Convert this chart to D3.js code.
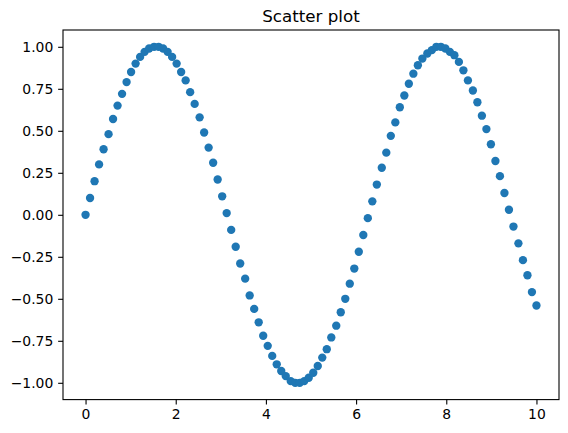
<!DOCTYPE html>
<html>
<head>
<meta charset="utf-8">
<script src="https://cdn.jsdelivr.net/npm/d3@7"></script>
<style>
  body { margin: 0; background: #fff; }
  text { font-family: "DejaVu Sans", sans-serif; }
</style>
</head>
<body>
<script>
// values (100 points, 0..10)
const xs = [0.00,0.10,0.20,0.30,0.40,0.51,0.61,0.71,0.81,0.91,
  1.01,1.11,1.21,1.31,1.41,1.52,1.62,1.72,1.82,1.92,
  2.02,2.12,2.22,2.32,2.42,2.53,2.63,2.73,2.83,2.93,
  3.03,3.13,3.23,3.33,3.43,3.54,3.64,3.74,3.84,3.94,
  4.04,4.14,4.24,4.34,4.44,4.55,4.65,4.75,4.85,4.95,
  5.05,5.15,5.25,5.35,5.45,5.56,5.66,5.76,5.86,5.96,
  6.06,6.16,6.26,6.36,6.46,6.57,6.67,6.77,6.87,6.97,
  7.07,7.17,7.27,7.37,7.47,7.58,7.68,7.78,7.88,7.98,
  8.08,8.18,8.28,8.38,8.48,8.59,8.69,8.79,8.89,8.99,
  9.09,9.19,9.29,9.39,9.49,9.60,9.70,9.80,9.90,10.00]
const ys = [0.00,0.10,0.20,0.30,0.39,0.48,0.57,0.65,0.72,0.79,
  0.85,0.90,0.94,0.97,0.99,1.00,1.00,0.99,0.97,0.94,
  0.90,0.85,0.80,0.73,0.66,0.58,0.49,0.40,0.31,0.21,
  0.11,0.01,-0.09,-0.19,-0.29,-0.38,-0.48,-0.56,-0.64,-0.72,
  -0.78,-0.84,-0.89,-0.93,-0.96,-0.99,-1.00,-1.00,-0.99,-0.97,
  -0.94,-0.90,-0.85,-0.80,-0.73,-0.66,-0.58,-0.50,-0.41,-0.32,
  -0.22,-0.12,-0.02,0.08,0.18,0.28,0.37,0.47,0.55,0.64,
  0.71,0.78,0.84,0.89,0.93,0.96,0.98,1.00,1.00,0.99,
  0.97,0.95,0.91,0.86,0.80,0.74,0.67,0.59,0.51,0.42,
  0.32,0.23,0.13,0.03,-0.07,-0.17,-0.27,-0.36,-0.46,-0.54]
const xTicks = [0, 2, 4, 6, 8, 10]
const yTicks = [-1, -0.75, -0.5, -0.25, 0, 0.25, 0.5, 0.75, 1]
const title = "Scatter plot"

const W = 568, H = 433
const m = {left: 63, right: 9, top: 30, bottom: 33.4}

const svg = d3.select("body").append("svg")
  .attr("width", W).attr("height", H)

const x = d3.scaleLinear().domain([-0.5, 10.5]).range([m.left, W - m.right])
const y = d3.scaleLinear().domain([-1.1, 1.1]).range([H - m.bottom, m.top])

const pts = xs.map((d, i) => ({x: d, y: ys[i]}))

svg.append("g")
  .selectAll("circle")
  .data(pts)
  .enter()
  .append("circle")
    .attr("cx", d => x(d.x))
    .attr("cy", d => y(d.y))
    .attr("r", 4.17)
    .attr("fill", "#1f77b4")

const xAxis = svg.append("g")
  .attr("transform", `translate(0,${H - m.bottom})`)
  .call(d3.axisBottom(x).tickValues(xTicks).tickFormat(d3.format("d"))
    .tickSizeOuter(0).tickSize(4.86).tickPadding(4.86))
const yAxis = svg.append("g")
  .attr("transform", `translate(${m.left},0)`)
  .call(d3.axisLeft(y).tickValues(yTicks).tickFormat(d => d3.format(".2f")(d).replace("-", "\u2212"))
    .tickSizeOuter(0).tickSize(4.86).tickPadding(4.86))

for (const a of [xAxis, yAxis]) {
  a.select(".domain").remove()
  a.selectAll("line").attr("stroke", "#000").attr("stroke-width", 1.1)
  a.selectAll("text").attr("font-size", "13.9px").attr("fill", "#000")
    .style("font-family", "'DejaVu Sans', sans-serif")
}

// frame
svg.append("rect")
  .attr("x", m.left).attr("y", m.top)
  .attr("width", W - m.right - m.left).attr("height", H - m.bottom - m.top)
  .attr("fill", "none").attr("stroke", "#000").attr("stroke-width", 1.1)

svg.append("text")
  .attr("x", (m.left + W - m.right) / 2)
  .attr("y", m.top - 8.3)
  .attr("text-anchor", "middle")
  .attr("font-size", "16.7px")
  .text(title)
</script>
</body>
</html>
